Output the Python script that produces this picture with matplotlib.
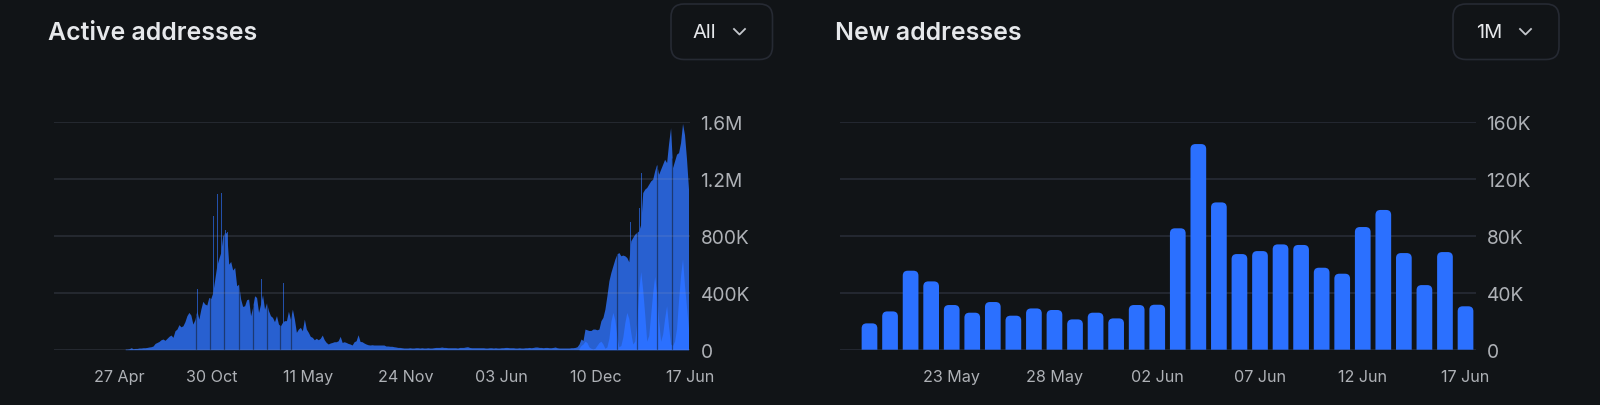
import matplotlib

matplotlib.use('Agg')
import matplotlib.pyplot as plt
from matplotlib.patches import FancyBboxPatch, PathPatch
from matplotlib.path import Path
import numpy as np
import pandas as pd

# --- 1. DATA ---
# Active addresses, thousands, one value every 4 days
active_2022 = [
    5, 5, 7, 14, 7, 9, 9, 12, 12, 14, 14, 16, 19, 21, 26, 44, 51, 58, 70, 75,
    66, 80, 94, 103, 87, 133, 145, 176, 161, 168, 197, 239, 262, 243, 180, 211, 274, 215, 285, 340,
    321, 314, 367, 360, 402, 496, 590, 640, 683, 800, 824, 820, 601, 620, 560, 578, 449, 461, 356, 304,
]
active_2023 = [
    309, 351, 356, 239, 297, 379, 367, 262, 321, 386, 285, 330, 274, 239, 227, 197, 240, 180, 168, 192,
    204, 204, 270, 215, 285, 215, 122, 145, 157, 133, 215, 145, 122, 94, 87, 70, 80, 70, 80, 103,
    70, 51, 40, 47, 51, 56, 56, 63, 94, 51, 56, 51, 44, 40, 33, 56, 63, 105, 58, 56,
    47, 40, 35, 33, 35, 33, 33, 33, 33, 33, 33,
]
active_flat = [
    26, 26, 24, 24, 21, 19, 16, 16, 14, 12, 12, 12, 14, 12, 12, 14, 14, 12, 14, 12,
    12, 14, 12, 12, 14, 16, 16, 16, 19, 16, 16, 14, 14, 14, 14, 14, 12, 16, 16, 16,
    19, 21, 16, 14, 14, 14, 14, 14, 14, 14, 12, 12, 14, 14, 12, 14, 12, 12, 14, 14,
    16, 16, 14, 14, 14, 12, 12, 14, 12, 12, 14, 14, 16, 14, 16, 19, 19, 16, 16, 14,
    16, 16, 14, 14, 16, 19, 14, 12, 12, 12, 12, 12, 12, 14, 14, 16, 21, 40,
]
active_rally = [
    75, 65, 145, 140, 135, 135, 145, 145, 140, 145, 204, 227, 285, 379, 484, 543, 590, 636, 672, 683,
    660, 665, 660, 648, 618, 765, 789, 812, 824, 835, 882, 1104, 1128, 1140, 1163, 1186, 1198, 1257, 1303, 1233,
    1268, 1303, 1338, 1315, 1450, 1560, 1280, 1327, 1374, 1385, 1455, 1590, 1510, 1340, 1130,
]
active_values = active_2022 + active_2023 + active_flat + active_rally

# Single days that stand out of the body, days since 27 Apr 2022
spike_days = [86, 158, 190, 198, 206, 214, 218, 286, 307, 330, 693, 1027, 1045, 1050]
spike_values = [138, 426, 941, 1097, 1100, 842, 828, 496, 328, 468, 187, 894, 999, 1245]

# Days that drop out and leave a dark stripe
dip_days = [154, 182, 211, 240, 269, 296, 323, 346, 1000, 1041, 1081, 1111]

# Brighter low part of the last months, same 4 day step, ends on the last day
low_values = [
    10, 30, 40, 60, 50, 20, 10, 5, 10, 30, 50, 60, 40, 10, 20, 80, 200, 262, 210, 100,
    20, 30, 90, 190, 262, 220, 120, 40, 60, 200, 420, 550, 420, 250, 60, 100, 250, 400, 515, 400,
    200, 60, 110, 220, 310, 160, 40, 30, 60, 150, 350, 520, 640, 450, 300, 150,
]

active_tick_dates = ['2022-04-27', '2022-10-30', '2023-05-11', '2023-11-24',
                     '2024-06-03', '2024-12-10', '2025-06-17']
active_tick_labels = ['27 Apr', '30 Oct', '11 May', '24 Nov', '03 Jun', '10 Dec', '17 Jun']
active_y_ticks = [0, 400, 800, 1200, 1600]
active_y_labels = ['0', '400K', '800K', '1.2M', '1.6M']

# New addresses, thousands, daily from 19 May
new_values = [
    18.5, 26.9, 55.5, 48.0, 31.4, 26.0, 33.5, 23.9, 29.0, 27.9, 21.3, 26.0, 22.0, 31.4, 31.6,
    85.3, 144.5, 103.5, 67.2, 69.3, 74.0, 73.6, 57.6, 53.4, 86.2, 98.2, 67.9, 45.4, 68.6, 30.5,
]
new_tick_index = [4, 9, 14, 19, 24, 29]
new_tick_labels = ['23 May', '28 May', '02 Jun', '07 Jun', '12 Jun', '17 Jun']
new_y_ticks = [0, 40, 80, 120, 160]
new_y_labels = ['0', '40K', '80K', '120K', '160K']

# --- 2. STYLE ---
BG = '#111417'
GRID = '#262a33'
BLUE = '#2b70ff'
BODY = '#2860d0'
TICK = '#aeb1b6'
TITLE = '#e6e8eb'
W, H = 1600, 406

plt.rcParams['font.family'] = ['Inter', 'DejaVu Sans']


# --- 3. HELPERS ---
def make_axes(fig, left, right, top, bottom):
    ax = fig.add_axes([left / W, 1 - bottom / H, (right - left) / W, (bottom - top) / H])
    ax.set_facecolor('none')
    for side in ax.spines.values():
        side.set_visible(False)
    ax.yaxis.tick_right()
    ax.tick_params(axis='both', length=0, colors=TICK)
    ax.tick_params(axis='x', labelsize=11.6, pad=14)
    ax.tick_params(axis='y', labelsize=13.8, pad=7.5)
    return ax


def rounded_bar(ax, x, top, width, rx, ry):
    # square at the base, rounded at the top
    left, right = x - width / 2, x + width / 2
    ry = min(ry, top)
    verts = [(left, 0), (left, top - ry), (left, top), (left + rx, top),
             (right - rx, top), (right, top), (right, top - ry), (right, 0), (left, 0)]
    codes = [Path.MOVETO, Path.LINETO, Path.CURVE3, Path.CURVE3,
             Path.LINETO, Path.CURVE3, Path.CURVE3, Path.LINETO, Path.CLOSEPOLY]
    ax.add_patch(PathPatch(Path(verts, codes), facecolor=BLUE, edgecolor='none', zorder=3))


def dropdown(ov, left, right, label, text_x, chevron_x):
    ov.add_patch(FancyBboxPatch((left, 5), right - left, 55.5,
                                boxstyle='round,pad=0,rounding_size=13',
                                facecolor='none', edgecolor=GRID, linewidth=1.2))
    ov.text(text_x, 33, label, color=TITLE, fontsize=14.5, va='center', ha='left')
    ov.plot([chevron_x, chevron_x + 5.5, chevron_x + 11], [30, 35.5, 30],
            color='#c4c7cc', linewidth=1.3)


# --- 4. FIGURE ---
fig = plt.figure(figsize=(W / 100, H / 100), dpi=100, facecolor=BG)

# left chart
ax1 = make_axes(fig, 54.3, 690, 123, 350.7)
active_days = 1144 - 4 * np.arange(len(active_values))[::-1]
low_days = 1144 - 4 * np.arange(len(low_values))[::-1]
ax1.fill_between(active_days, 0, active_values, color=BODY, linewidth=0, zorder=2)
ax1.fill_between(low_days, 0, low_values, color=BLUE, linewidth=0, zorder=2.2)
ax1.bar(spike_days, spike_values, width=1.6, color=BODY, alpha=0.8, linewidth=0, zorder=2.1)
ax1.vlines(dip_days, 0, np.interp(dip_days, active_days, active_values),
           color=BG, alpha=0.5, linewidth=0.9, zorder=2.4)
ax1.hlines(active_y_ticks, -130.5, 1147, color='#9aa0c0', alpha=0.16, linewidth=1.3, zorder=3)
start = pd.Timestamp(active_tick_dates[0])
ax1.set_xticks([(pd.Timestamp(d) - start).days for d in active_tick_dates], active_tick_labels)
ax1.set_yticks(active_y_ticks, active_y_labels)
ax1.set_xlim(-130.5, 1147)
ax1.set_ylim(0, 1600)

# right chart
ax2 = make_axes(fig, 840, 1476, 123, 350.7)
rx = 5 / 20.55
ry = 5 * 160 / 227.7
for i, value in enumerate(new_values):
    rounded_bar(ax2, i, value, 15.7 / 20.55, rx, ry)
ax2.hlines(new_y_ticks, -1.435, 29.51, color=GRID, linewidth=1.3, zorder=1)
ax2.set_xticks(new_tick_index, new_tick_labels)
ax2.set_yticks(new_y_ticks, new_y_labels)
ax2.set_xlim(-1.435, 29.51)
ax2.set_ylim(0, 160)

# titles and dropdowns, in pixels
ov = fig.add_axes([0, 0, 1, 1])
ov.set_xlim(0, W)
ov.set_ylim(H, 0)
ov.axis('off')
ov.patch.set_alpha(0)
ov.text(48, 33.5, 'Active addresses', color=TITLE, fontsize=17.9, fontweight='semibold', va='center')
ov.text(835, 33.5, 'New addresses', color=TITLE, fontsize=17.9, fontweight='semibold', va='center')
dropdown(ov, 671, 772.5, 'All', 692.5, 734)
dropdown(ov, 1453, 1559, '1M', 1476, 1520)

fig.savefig('out.png', dpi=100, facecolor=BG)
plt.close(fig)
